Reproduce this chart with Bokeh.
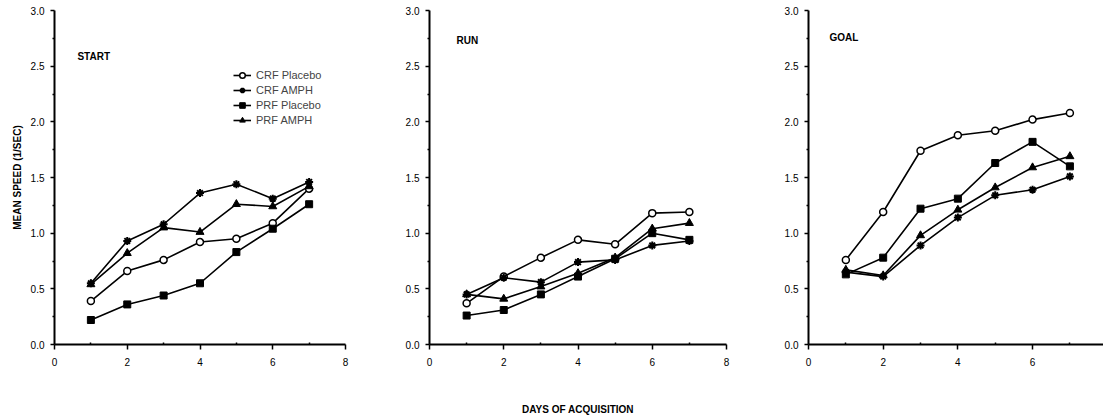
from bokeh.plotting import figure
from bokeh.layouts import row
from bokeh.models import FixedTicker, NumeralTickFormatter, Range1d
from bokeh.embed import file_html
from bokeh.resources import INLINE
from bokeh.core.properties import value

days = [1, 2, 3, 4, 5, 6, 7]
series_names = ["CRF Placebo", "CRF AMPH", "PRF Placebo", "PRF AMPH"]
panel_titles = ["START", "RUN", "GOAL"]

start_crf_placebo = [0.39, 0.66, 0.76, 0.92, 0.95, 1.09, 1.40]
start_crf_amph = [0.55, 0.93, 1.08, 1.36, 1.44, 1.31, 1.46]
start_prf_placebo = [0.22, 0.36, 0.44, 0.55, 0.83, 1.04, 1.26]
start_prf_amph = [0.54, 0.82, 1.05, 1.01, 1.26, 1.24, 1.42]

run_crf_placebo = [0.37, 0.61, 0.78, 0.94, 0.90, 1.18, 1.19]
run_crf_amph = [0.45, 0.60, 0.56, 0.74, 0.76, 0.89, 0.93]
run_prf_placebo = [0.26, 0.31, 0.45, 0.61, 0.77, 1.00, 0.94]
run_prf_amph = [0.45, 0.41, 0.52, 0.64, 0.78, 1.04, 1.09]

goal_crf_placebo = [0.76, 1.19, 1.74, 1.88, 1.92, 2.02, 2.08]
goal_crf_amph = [0.65, 0.61, 0.89, 1.14, 1.34, 1.39, 1.51]
goal_prf_placebo = [0.63, 0.78, 1.22, 1.31, 1.63, 1.82, 1.60]
goal_prf_amph = [0.67, 0.62, 0.98, 1.21, 1.41, 1.59, 1.69]

y_ticks = [0.0, 0.5, 1.0, 1.5, 2.0, 2.5, 3.0]
y_minor = [0.25, 0.75, 1.25, 1.75, 2.25, 2.75]
x_ticks = [0, 2, 4, 6, 8]
x_minor = [1, 3, 5, 7]

FONT = "Liberation Sans"

markers = [
    dict(marker="circle", fill_color="white", line_color="black", size=7, line_width=1.5),
    dict(marker="asterisk", fill_color="black", line_color="black", size=8, line_width=2),
    dict(marker="square", fill_color="black", line_color="black", size=7, line_width=1),
    dict(marker="triangle", fill_color="black", line_color="black", size=8, line_width=1),
]


def make_fig(width, b_left, b_right, x_end, title, tpos, series, legend=False,
             ylabel=None, xlabel=None):
    p = figure(width=width, height=418, output_backend="svg", toolbar_location=None,
               x_range=Range1d(0, x_end), y_range=Range1d(0, 3.0),
               min_border_left=b_left, min_border_right=b_right,
               min_border_top=10, min_border_bottom=74)
    p.outline_line_color = None
    p.xgrid.visible = False
    p.ygrid.visible = False
    p.background_fill_color = "white"
    p.border_fill_color = "white"

    for name, vals, mk in zip(series_names, series, markers):
        kw = {"legend_label": name} if legend else {}
        p.line(days, vals, line_color="black", line_width=1.6, **kw)
        p.scatter(days, vals, **mk, **kw)

    p.text(x=[tpos[0]], y=[tpos[1]], text=[title], text_font=value(FONT),
           text_font_style="bold", text_font_size="10px", text_baseline="middle",
           text_align="left", text_color="black")

    for ax in (p.xaxis[0], p.yaxis[0]):
        ax.axis_line_width = 2
        ax.axis_line_color = "black"
        ax.major_tick_line_width = 1.5
        ax.minor_tick_line_width = 1.5
        ax.major_label_text_font = FONT
        ax.major_label_text_font_size = "10px"
        ax.major_label_text_color = "black"
        ax.axis_label_text_font = FONT
        ax.axis_label_text_font_style = "bold"
        ax.axis_label_text_font_size = "10px"
        ax.axis_label_text_color = "black"

    p.yaxis.ticker = FixedTicker(ticks=y_ticks, minor_ticks=y_minor)
    p.yaxis.formatter = NumeralTickFormatter(format="0.0")
    p.yaxis.major_tick_out = 4
    p.yaxis.major_tick_in = 0
    p.yaxis.minor_tick_out = 2
    p.yaxis.minor_tick_in = 0
    p.yaxis.major_label_standoff = 6

    p.xaxis.ticker = FixedTicker(ticks=x_ticks, minor_ticks=x_minor)
    p.xaxis.formatter = NumeralTickFormatter(format="0")
    p.xaxis.major_tick_out = 5
    p.xaxis.major_tick_in = 0
    p.xaxis.minor_tick_out = 0
    p.xaxis.minor_tick_in = 2
    p.xaxis.major_label_standoff = 8

    if ylabel:
        p.yaxis.axis_label = ylabel
        p.yaxis.axis_label_standoff = 5
    if xlabel:
        p.xaxis.axis_label = xlabel
        p.xaxis.axis_label_standoff = 35

    if legend:
        lg = p.legend[0]
        lg.location = (179, 217)
        lg.border_line_color = None
        lg.background_fill_alpha = 0
        lg.label_text_font = FONT
        lg.label_text_font_size = "11px"
        lg.glyph_width = 18
        lg.glyph_height = 14
        lg.label_height = 14
        lg.spacing = 1
        lg.padding = 2
        lg.label_standoff = 5
    return p


p1 = make_fig(389, 54, 44, 8, panel_titles[0], (0.63, 2.59),
              [start_crf_placebo, start_crf_amph, start_prf_placebo, start_prf_amph],
              legend=True, ylabel="MEAN SPEED (1/SEC)")
p2 = make_fig(379, 40, 42, 8, panel_titles[1], (0.73, 2.73),
              [run_crf_placebo, run_crf_amph, run_prf_placebo, run_prf_amph],
              xlabel="DAYS OF ACQUISITION")
p3 = make_fig(335, 40, 0, 7.9, panel_titles[2], (0.56, 2.76),
              [goal_crf_placebo, goal_crf_amph, goal_prf_placebo, goal_prf_amph])

layout = row(p1, p2, p3)
open("out.html", "w").write(file_html(layout, INLINE))
